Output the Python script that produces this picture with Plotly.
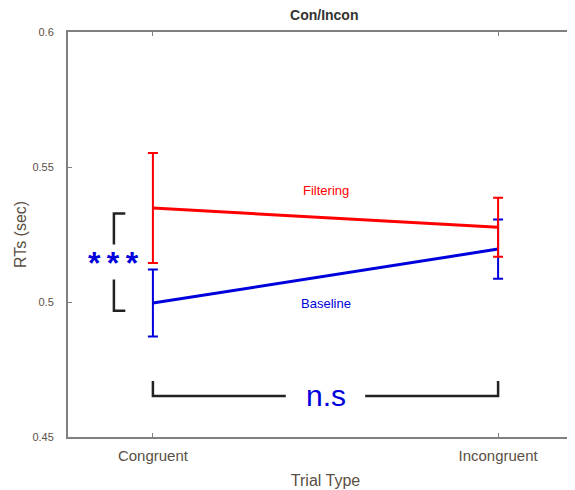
import plotly.graph_objects as go

categories = ["Congruent", "Incongruent"]
filtering_mean = [0.5348, 0.5277]
filtering_err = [0.0204, 0.0109]
baseline_mean = [0.4996, 0.5196]
baseline_err = [0.0124, 0.0110]
y_ticks = [0.45, 0.5, 0.55, 0.6]
y_ticktext = ["0.45", "0.5", "0.55", "0.6"]

RED = "#ff0000"
BLUE = "#0000dd"
AXIS = "#808080"
TXT = "#5a4f46"

fig = go.Figure()
fig.add_trace(go.Scatter(
    x=categories, y=baseline_mean, mode="lines",
    line=dict(color=BLUE, width=3),
    error_y=dict(type="data", array=baseline_err, color=BLUE, thickness=2, width=5),
    showlegend=False))
fig.add_trace(go.Scatter(
    x=categories, y=filtering_mean, mode="lines",
    line=dict(color=RED, width=3),
    error_y=dict(type="data", array=filtering_err, color=RED, thickness=2, width=5),
    showlegend=False))

# line labels
fig.add_annotation(x=0.5, y=0.5412, xref="x", yref="y", text="Filtering",
                   showarrow=False, font=dict(color=RED, size=13))
fig.add_annotation(x=0.5, y=0.4995, xref="x", yref="y", text="Baseline",
                   showarrow=False, font=dict(color=BLUE, size=13))

# *** significance bracket
bk = dict(color="#222222", width=2.5)
fig.add_shape(type="path", xref="x", yref="y",
              path="M -0.08 0.5328 L -0.113 0.5328 L -0.113 0.5213", line=bk)
fig.add_shape(type="path", xref="x", yref="y",
              path="M -0.113 0.5083 L -0.113 0.4968 L -0.08 0.4968", line=bk)
fig.add_annotation(x=-0.113, y=0.5144, xref="x", yref="y", text="<b>*\u2009*\u2009*</b>",
                   showarrow=False, font=dict(color=BLUE, size=32))

# n.s bracket
fig.add_shape(type="path", xref="x", yref="y",
              path="M 0 0.4707 L 0 0.4652 L 0.385 0.4652", line=bk)
fig.add_shape(type="path", xref="x", yref="y",
              path="M 0.615 0.4652 L 1 0.4652 L 1 0.4707", line=bk)
fig.add_annotation(x=0.5, y=0.4655, xref="x", yref="y", text="n.s",
                   showarrow=False, font=dict(color=BLUE, size=30))

fig.update_layout(
    width=575, height=490,
    margin=dict(l=60, r=0, t=24, b=61),
    paper_bgcolor="white", plot_bgcolor="white",
    font=dict(family="Liberation Sans, Arial, sans-serif", color=TXT),
    title=dict(text="<b>Con/Incon</b>", x=0.55, xanchor="center", y=0.985, yanchor="middle",
               font=dict(size=14, color="#333333")),
)
fig.update_xaxes(
    range=[-0.246, 1.246], showline=True, linecolor=AXIS, linewidth=2,
    mirror="ticks", ticks="inside", ticklen=4, tickcolor=AXIS, tickwidth=1,
    showgrid=False, zeroline=False, tickfont=dict(size=15, color=TXT),
    ticklabelstandoff=4,
    title=dict(text="Trial Type", font=dict(size=16, color=TXT), standoff=12),
)
fig.update_yaxes(
    range=[0.45, 0.6], tickvals=y_ticks, ticktext=y_ticktext,
    showline=True, linecolor=AXIS, linewidth=2, ticks="inside", ticklen=4,
    tickcolor=AXIS, showgrid=False, zeroline=False,
    tickfont=dict(size=11, color=TXT), ticklabelstandoff=10,
    title=dict(text="RTs (sec)", font=dict(size=16, color=TXT), standoff=2),
)

fig.write_html("out.html")
